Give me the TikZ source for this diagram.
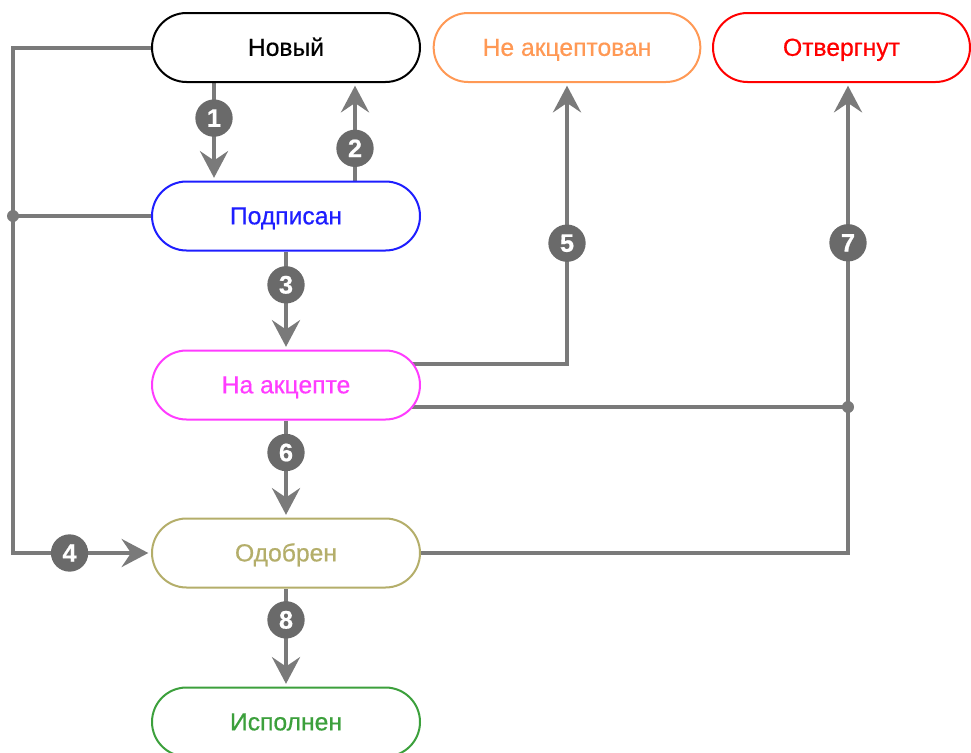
\documentclass[tikz,border=0pt]{standalone}
\usepackage{fontspec}
\setmainfont[FakeBold=0.6]{Liberation Sans}
\usetikzlibrary{shapes.misc,arrows.meta,calc,backgrounds}
\definecolor{lg}{HTML}{7A7A7A}
\definecolor{numc}{HTML}{6A6A6A}
\definecolor{cnea}{HTML}{FF9955}
\definecolor{cotv}{HTML}{FF0000}
\definecolor{cpod}{HTML}{1E1EFF}
\definecolor{cnak}{HTML}{FF3CFF}
\definecolor{codo}{HTML}{B4AE6A}
\definecolor{cisp}{HTML}{3CA03C}
\begin{document}
\begin{tikzpicture}[x=0.75pt,y=-0.75pt,
  state/.style={rounded rectangle, draw, line width=1.5pt, fill=white,
    minimum width=201pt, minimum height=51.75pt, inner sep=0pt,
    text height=12.5pt, text depth=0pt,
    font=\fontsize{18.5}{18.5}\selectfont},
  conn/.style={draw=lg, line width=3pt},
  arr/.style={conn, shorten >=2pt, -{Stealth[length=20pt,width=21pt,inset=7pt]}},
  num/.style={circle, fill=numc, text=white, inner sep=0pt, minimum size=28pt,
    font=\bfseries\fontsize{19}{19}\selectfont},
  jdot/.style={circle, fill=lg, inner sep=0pt, minimum size=9pt}]
\useasboundingbox (0,0) rectangle (971,753);
\clip (0,0) rectangle (971,753);
% states
\node[state, draw=black, text=black] (nov) at (286,47.5) {Новый};
\node[state, draw=cnea, text=cnea, minimum width=200pt] (nea) at (567,47.5) {Не акцептован};
\node[state, draw=cotv, text=cotv, minimum width=192.75pt] (otv) at (841.5,47.5) {Отвергнут};
\node[state, draw=cpod, text=cpod] (pod) at (286,216) {Подписан};
\node[state, draw=cnak, text=cnak] (nak) at (286,385) {На акцепте};
\node[state, draw=codo, text=codo] (odo) at (286,553) {Одобрен};
\node[state, draw=cisp, text=cisp] (isp) at (286,722) {Исполнен};
% column coordinates
\coordinate (c1) at (214,0);
\coordinate (c2) at (355,0);
\coordinate (cl) at (13,0);
\coordinate (c7) at (848,0);
\coordinate (n5) at ($(nak.center)+(100,-21)$);
\coordinate (n7) at ($(nak.center)+(100,22)$);
\begin{scope}[on background layer]
  \draw[arr] (nov.south -| c1) -- node[num, pos=0.36]{1} (pod.north -| c1);
  \draw[arr] (pod.north -| c2) -- node[num, pos=0.33]{2} (nov.south -| c2);
  \draw[arr] (pod.south) -- node[num, pos=0.34]{3} (nak.north);
  \draw[arr] (nak.south) -- node[num, pos=0.33]{6} (odo.north);
  \draw[arr] (odo.south) -- node[num, pos=0.32]{8} (isp.north);
  \draw[arr] (nov.west) -- (nov.west -| cl) -- (odo.west -| cl)
     -- node[num, pos=0.41]{4} (odo.west);
  \draw[conn] (pod.west) -- (pod.west -| cl) node[jdot]{};
  \draw[arr] (n5) -| node[num, pos=0.715]{5} (nea.south);
  \draw[conn] (n7) -- (n7 -| c7) node[jdot]{};
  \draw[arr] (odo.east) -- (odo.east -| c7) -- node[num, pos=0.66]{7} (otv.south -| c7);
\end{scope}
\end{tikzpicture}
\end{document}
